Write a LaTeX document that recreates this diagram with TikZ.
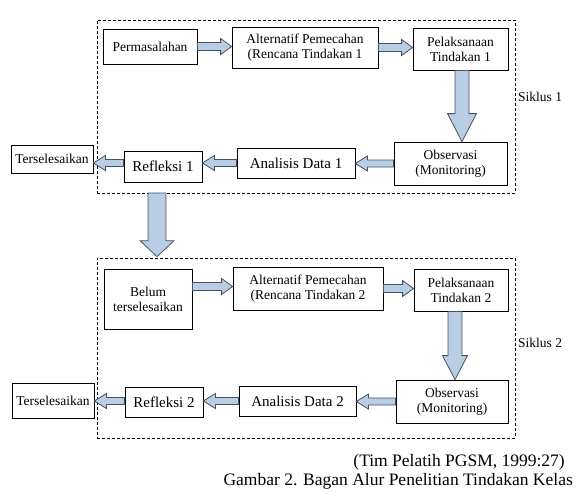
\documentclass[tikz,border=0pt]{standalone}
\usepackage{fontspec}
\setmainfont{Liberation Serif}
\usetikzlibrary{calc}
\definecolor{arrowfill}{HTML}{B9CDE5}
\definecolor{arrowline}{HTML}{46525E}
\tikzset{
  box/.style={draw=black, line width=0.8pt, fill=white, inner sep=0pt, align=center,
    font=\fontsize{13.5}{15}\selectfont},
  bigbox/.style={box, font=\fontsize{15}{17}\selectfont},
  dashbox/.style={draw=black, dashed, dash pattern=on 3pt off 2pt, line width=0.7pt, inner sep=0pt},
  blockarrow/.style={draw=arrowline, fill=arrowfill, line width=0.8pt, line join=miter},
  lbl/.style={font=\fontsize{13.5}{15}\selectfont, inner sep=0pt},
  captext/.style={font=\fontsize{17.5}{19}\selectfont, inner sep=0pt}
}
% right arrow: start, end, shaft half, head half, head length
\newcommand\rarr[5]{%
 \draw[blockarrow] let \p1=#1, \p2=#2 in
  (\x1,{\y1-#3}) -- ({\x2-#5},{\y1-#3}) -- ({\x2-#5},{\y1-#4}) -- (\x2,\y1) --
  ({\x2-#5},{\y1+#4}) -- ({\x2-#5},{\y1+#3}) -- (\x1,{\y1+#3}) -- cycle;}
\newcommand\larr[5]{%
 \draw[blockarrow] let \p1=#1, \p2=#2 in
  (\x1,{\y1-#3}) -- ({\x2+#5},{\y1-#3}) -- ({\x2+#5},{\y1-#4}) -- (\x2,\y1) --
  ({\x2+#5},{\y1+#4}) -- ({\x2+#5},{\y1+#3}) -- (\x1,{\y1+#3}) -- cycle;}
\newcommand\darr[5]{%
 \draw[blockarrow] let \p1=#1, \p2=#2 in
  ({\x1-#3},\y1) -- ({\x1-#3},{\y2+#5}) -- ({\x1-#4},{\y2+#5}) -- (\x1,\y2) --
  ({\x1+#4},{\y2+#5}) -- ({\x1+#3},{\y2+#5}) -- ({\x1+#3},\y1) -- cycle;}
\begin{document}
\begin{tikzpicture}[x=1pt,y=-1pt]
\useasboundingbox[fill=white] (0,0) rectangle (586,493);

% cycle frames
\node[dashbox, minimum width=418pt, minimum height=173pt] (cyc1) at (306,106.5) {};
\node[dashbox, minimum width=418pt, minimum height=180pt] (cyc2) at (306,348) {};

% cycle 1
\node[box, minimum width=94pt, minimum height=35pt] (perm) at (150,46.5) {Permasalahan};
\node[box, minimum width=146pt, minimum height=41pt] (alt1) at (305,47.5) {Alternatif Pemecahan\\(Rencana Tindakan 1};
\node[box, minimum width=95pt, minimum height=42pt] (pel1) at (460.5,49) {Pelaksanaan\\Tindakan 1};
\node[box, minimum width=113pt, minimum height=43pt] (obs1) at (450.5,163.5) {Observasi\\(Monitoring)};
\node[bigbox, minimum width=118pt, minimum height=30pt] (ana1) at (296,163) {Analisis Data 1};
\node[bigbox, minimum width=78pt, minimum height=31pt] (ref1) at (163,166.5) {Refleksi 1};
\node[box, minimum width=82pt, minimum height=28pt] (ter1) at (52,159) {Terselesaikan};
\node[lbl, anchor=west] (sik1) at (518,97) {Siklus 1};

% cycle 2
\node[box, minimum width=88pt, minimum height=60pt] (belum) at (148,299) {Belum\\terselesaikan};
\node[box, minimum width=150pt, minimum height=43pt] (alt2) at (308,288.5) {Alternatif Pemecahan\\(Rencana Tindakan 2};
\node[box, minimum width=94pt, minimum height=42pt] (pel2) at (461,290) {Pelaksanaan\\Tindakan 2};
\node[box, minimum width=112pt, minimum height=43pt] (obs2) at (452,401.5) {Observasi\\(Monitoring)};
\node[bigbox, minimum width=117pt, minimum height=30pt] (ana2) at (297.5,401) {Analisis Data 2};
\node[bigbox, minimum width=78pt, minimum height=30pt] (ref2) at (164,402) {Refleksi 2};
\node[box, minimum width=82pt, minimum height=35pt] (ter2) at (53,400.5) {Terselesaikan};
\node[lbl, anchor=west] (sik2) at (518,343) {Siklus 2};

% captions
\node[captext, anchor=east] (src) at (565,462) {(Tim Pelatih PGSM, 1999:27)};
\node[captext, anchor=east] (fig) at (573,481) {Gambar 2. Bagan Alur Penelitian Tindakan Kelas};

% arrows cycle 1
\rarr{(perm.east)}{(alt1.west)}{4pt}{8pt}{11pt}
\rarr{(alt1.east)}{(pel1.west)}{4pt}{8pt}{11pt}
\darr{($(pel1.south)+(1.5,0)$)}{(obs1.north)}{7pt}{14.5pt}{28pt}
\larr{(obs1.west)}{(ana1.east)}{3.5pt}{7.5pt}{12pt}
\larr{(ana1.west)}{(ref1.east)}{3.5pt}{7.5pt}{12pt}
\larr{(ref1.west |- ana1.west)}{(ter1.east)}{3.5pt}{7.5pt}{12pt}

% between cycles
\coordinate (dn1) at (157,193);
\darr{(dn1)}{($(cyc2.north)+(0,-1)$)}{9pt}{17pt}{16pt}

% arrows cycle 2
\rarr{($(belum.east |- alt2.west)+(0,-2)$)}{(alt2.west)}{4pt}{8pt}{11pt}
\rarr{(alt2.east)}{(pel2.west)}{4pt}{8pt}{11pt}
\darr{($(pel2.south)+(-6,0)$)}{(obs2.north)}{7pt}{12.5pt}{24pt}
\larr{(obs2.west)}{(ana2.east)}{3.5pt}{7.5pt}{12pt}
\larr{(ana2.west)}{(ref2.east)}{3.5pt}{7.5pt}{12pt}
\larr{(ref2.west |- ana2.west)}{(ter2.east)}{3.5pt}{7.5pt}{12pt}
\end{tikzpicture}
\end{document}
